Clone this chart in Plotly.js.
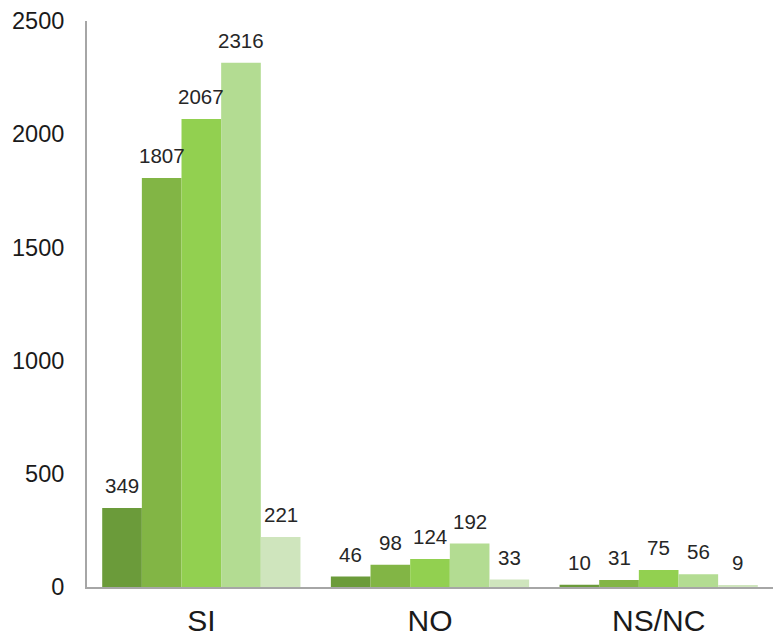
<!DOCTYPE html>
<html>
<head>
<meta charset="utf-8">
<script src="https://cdn.plot.ly/plotly-3.0.1.min.js"></script>
<style>html,body{margin:0;padding:0;background:#fff;}#chart{width:773px;height:640px;}</style>
</head>
<body>
<div id="chart"></div>
<script>
const categories = ["SI", "NO", "NS/NC"];
const series1 = [349, 46, 10];
const series2 = [1807, 98, 31];
const series3 = [2067, 124, 75];
const series4 = [2316, 192, 56];
const series5 = [221, 33, 9];
const yTicks = [0, 500, 1000, 1500, 2000, 2500];

const allSeries = [series1, series2, series3, series4, series5];
const colors = ["#6b9b3a", "#82b545", "#92d050", "#b3dc92", "#cfe5bd"];
const bargap = 0.133;
const nSeries = allSeries.length;
const barW = (1 - bargap) / nSeries;

const traces = allSeries.map((vals, i) => ({
  type: "bar",
  x: categories,
  y: vals,
  marker: { color: colors[i], line: { width: 0 } },
  hoverinfo: "none"
}));

const annotations = [];
allSeries.forEach((vals, i) => {
  vals.forEach((v, c) => {
    annotations.push({
      x: c + (i - (nSeries - 1) / 2) * barW,
      y: v,
      xref: "x", yref: "y",
      text: String(v),
      showarrow: false,
      yanchor: "bottom",
      yshift: 9,
      font: { family: "Liberation Sans, Arial, sans-serif", size: 20.5, color: "#262626" }
    });
  });
});

const layout = {
  width: 773, height: 640,
  margin: { l: 87, r: 0, t: 21, b: 53 },
  paper_bgcolor: "#ffffff", plot_bgcolor: "#ffffff",
  showlegend: false,
  barmode: "group",
  bargap: bargap,
  bargroupgap: 0,
  xaxis: {
    type: "category",
    showgrid: false, zeroline: false,
    showline: true, linecolor: "#a6a6a6", linewidth: 2,
    ticks: "",
    ticklabelstandoff: 6,
    tickfont: { family: "Liberation Sans, Arial, sans-serif", size: 30, color: "#1a1a1a" }
  },
  yaxis: {
    range: [0, 2500],
    tickvals: yTicks,
    ticktext: yTicks.map(String),
    showgrid: false, zeroline: false,
    showline: true, linecolor: "#a6a6a6", linewidth: 2,
    ticks: "",
    ticklabelstandoff: 16,
    tickfont: { family: "Liberation Sans, Arial, sans-serif", size: 23.5, color: "#1a1a1a" }
  },
  annotations: annotations
};

Plotly.newPlot("chart", traces, layout, { displayModeBar: false, staticPlot: true });
</script>
</body>
</html>
